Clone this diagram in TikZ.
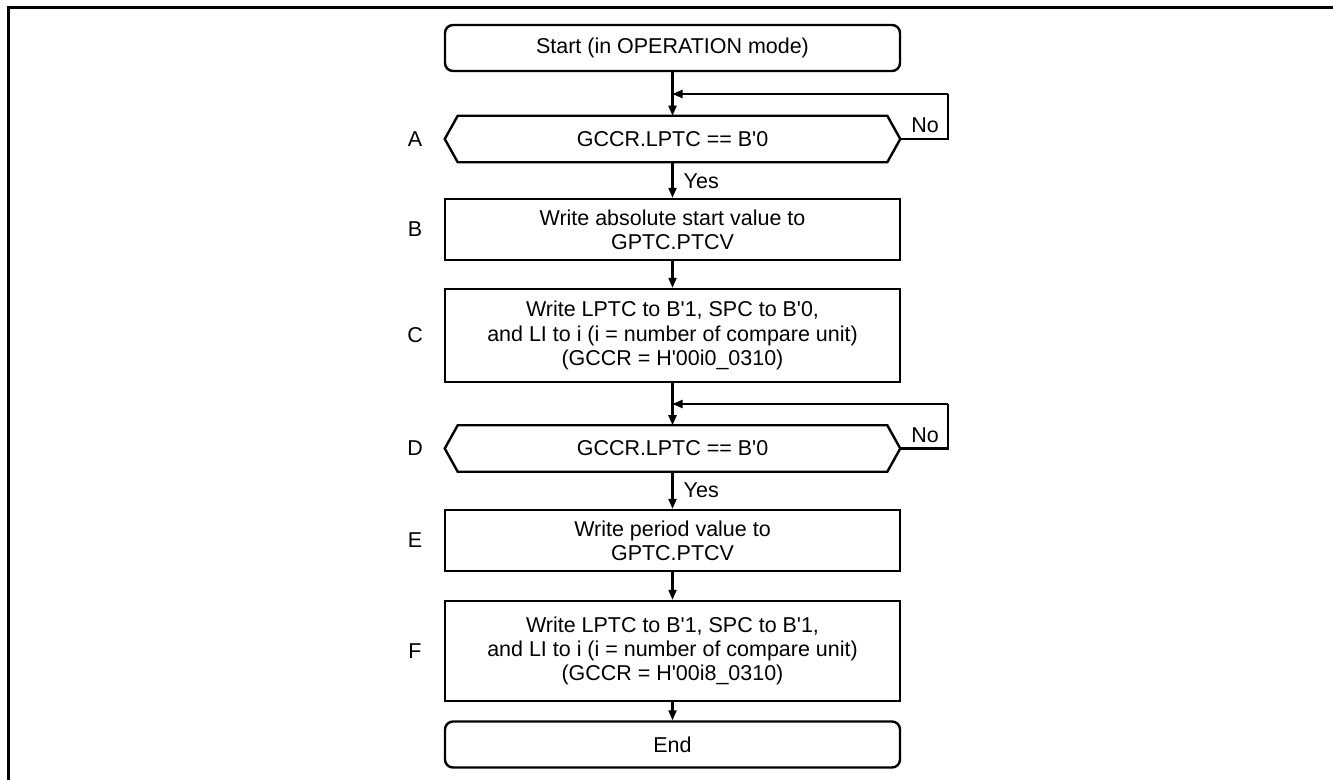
\documentclass[tikz,border=0pt]{standalone}
\usepackage{fontspec}
\setmainfont{Liberation Sans}
\usetikzlibrary{arrows.meta}
\newcommand{\q}{\textquotesingle}
\begin{document}
\begin{tikzpicture}[x=0.75pt,y=-0.75pt,
  every node/.style={font=\fontsize{16.1}{18.2}\selectfont},
  proc/.style={draw,line width=1.8pt,minimum width=341.25pt,inner sep=0pt,align=center},
  term/.style={proc,rounded corners=6pt},
  cond/.style={minimum width=341.25pt,minimum height=34.5pt,inner sep=0pt},
  hexa/.style={line width=1.8pt,line join=miter},
  arr/.style={line width=1.6pt,-{Triangle[length=7.5pt,width=6pt]}},
  lbl/.style={}
]
\useasboundingbox (0,0) rectangle (1333,780);
\draw[line width=2.25pt] (8,790) -- (8,8) -- (1345,8);

\node[term,minimum height=34.5pt] (S) at (672.5,48) {Start (in OPERATION mode)};
\node[cond] (A) at (672.5,139) {GCCR.LPTC == B\q0};
\node[proc,minimum height=45.75pt] (B) at (672.5,229.5) {Write absolute start value to\\GPTC.PTCV};
\node[proc,minimum height=69.75pt] (C) at (672.5,335.5) {Write LPTC to B\q1, SPC to B\q0,\\and LI to i (i = number of compare unit)\\(GCCR = H\q00i0\_0310)};
\node[cond] (D) at (672.5,448.5) {GCCR.LPTC == B\q0};
\node[proc,minimum height=45.75pt] (E) at (672.5,540.5) {Write period value to\\GPTC.PTCV};
\node[proc,minimum height=75pt] (F) at (672.5,651) {Write LPTC to B\q1, SPC to B\q1,\\and LI to i (i = number of compare unit)\\(GCCR = H\q00i8\_0310)};
\node[term,minimum height=34.5pt] (End) at (672.5,744.5) {End};

\foreach \n in {A,D}{
  \draw[hexa] (\n.west) -- ([xshift=9.75pt]\n.north west) -- ([xshift=-9.75pt]\n.north east)
    -- (\n.east) -- ([xshift=-9.75pt]\n.south east) -- ([xshift=9.75pt]\n.south west) -- cycle;
}

\node[lbl] (lA) at (415,139) {A};
\node[lbl] (lB) at (415,229.5) {B};
\node[lbl] (lC) at (415,335.5) {C};
\node[lbl] (lD) at (415,448.5) {D};
\node[lbl] (lE) at (415,540.5) {E};
\node[lbl] (lF) at (415,651) {F};

\coordinate (la) at (672.5,94);
\coordinate (ra) at (948,94);
\coordinate (ld) at (672.5,404);
\coordinate (rd) at (948,404);

\draw[arr] (S) -- (A);
\draw[line width=1.6pt] (A.east) -| (ra);
\draw[arr] (ra) -- (la);
\draw[arr] (A) -- (B);
\draw[arr] (B) -- (C);
\draw[arr] (C) -- (D);
\draw[line width=1.6pt] (D.east) -| (rd);
\draw[arr] (rd) -- (ld);
\draw[arr] (D) -- (E);
\draw[arr] (E) -- (F);
\draw[arr] (F) -- (End);

\node[anchor=west] (yA) at (679,181) {Yes};
\node[anchor=west] (yD) at (679,490.5) {Yes};
\node (nA) at (925,125) {No};
\node (nD) at (925,435) {No};
\end{tikzpicture}
\end{document}
